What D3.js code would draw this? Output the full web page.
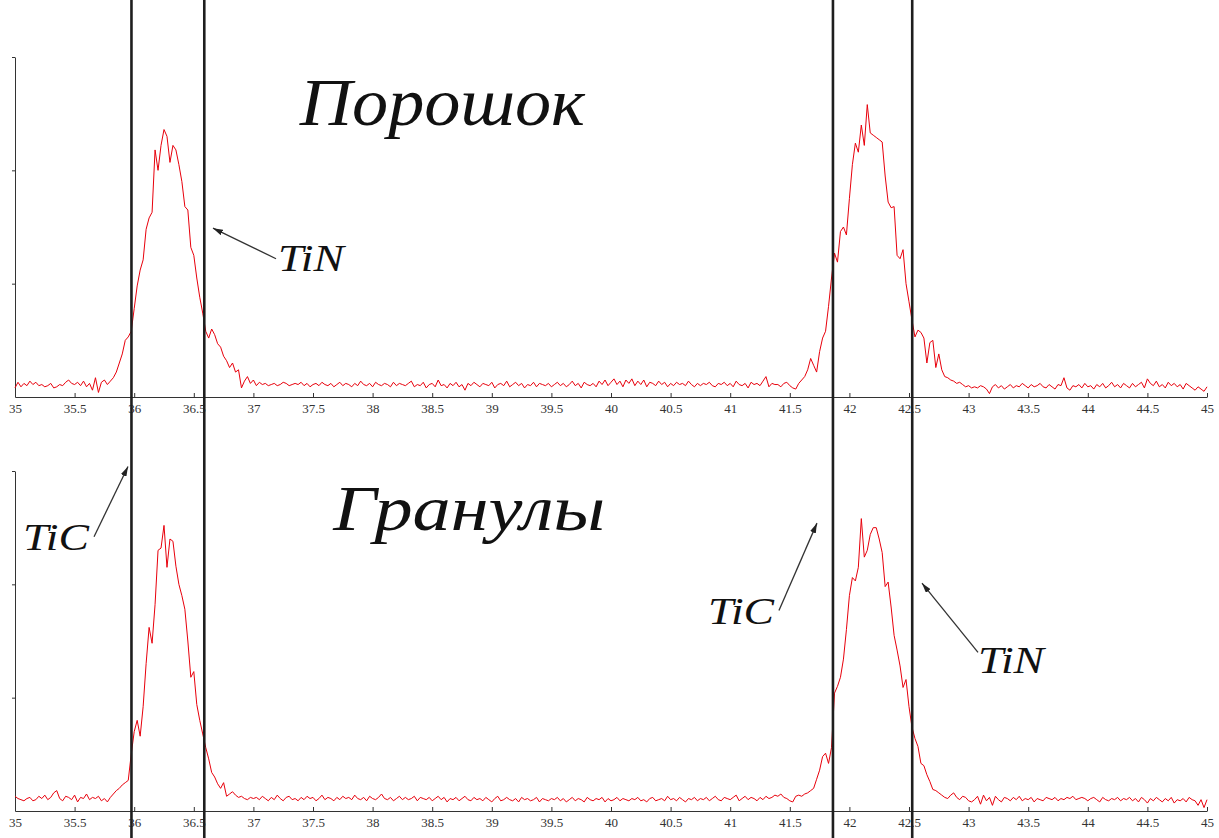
<!DOCTYPE html>
<html>
<head>
<meta charset="utf-8">
<script src="https://cdn.jsdelivr.net/npm/d3@7"></script>
<style>
  html, body { margin: 0; padding: 0; background: #fff; }
  svg { display: block; }
  .axis path, .axis line { stroke: #333; }
  .axis text { font-family: "Liberation Serif", "Times New Roman", serif; font-size: 13px; fill: #333; }
  .title, .note { font-family: "Liberation Serif", "Times New Roman", serif; font-style: italic; fill: #111; }
</style>
</head>
<body>
<svg id="chart" width="1219" height="838"></svg>
<script>
// scan grid, 2-theta in degrees
var thetaStart = 35, thetaStep = 0.025;
var xTicks = [35, 35.5, 36, 36.5, 37, 37.5, 38, 38.5, 39, 39.5, 40, 40.5, 41, 41.5, 42, 42.5, 43, 43.5, 44, 44.5, 45];
var yTicks = [100, 200, 300];

// reference positions of the TiC / TiN lines (2-theta)
var markerLines = [35.977, 36.588, 41.862, 42.527];

// intensities, powder ("Порошок")
var powderCounts = [
  8,13,9,12,10,14,11,13,10,11, 9,10,12,8,9,11,10,13,15,12, 11,13,10,14,9,12,6,17,4,13, 15,11,
  14,17,22,30,38,50,53,58,78,98, 112,121,148,158,163,218,200,222,236,230, 207,222,218,205,190,168,165,132,125,105,
  88,74,58,52,60,55,47,44,36,32, 26,30,22,24,8,14,18,12,15,
  10,13,11,12,10,11,12,10,11,13, 12,10,11,12,11,13,10,12,9,11, 12,10,13,11,10,
  12,9,11,13,10,12,11,9,12,10, 14,11,10,12,9,13,11,10,12,11, 9,13,10,12,11,
  10,12,14,9,11,10,13,8,11,12, 9,15,10,11,8,12,10,13,9,11, 6,12,10,13,11,
  9,12,11,10,13,8,11,12,10,14, 9,11,13,10,12,8,11,10,13,9, 12,11,10,12,9,
  11,13,10,12,9,11,14,10,12,8, 13,11,10,12,9,14,11,15,10,13, 16,11,14,9,15,
  12,16,10,14,11,15,9,13,12,10, 14,11,13,9,12,10,13,11,12,10, 14,11,9,12,10,
  12,11,13,10,9,12,11,13,10,12, 9,14,11,10,12,8,13,11,12,10, 14,18,9,12,11,
  11,9,12,13,10,8,7,12,15,18, 24,34,28,22,40,52,58,80,105,127, 119,146,150,143,175,205,224,216,240,222,
  258,233,231,229,227,225,195,172,167,168, 125,122,130,100,84,68,53,59,57,52, 30,48,50,26,38,24,18,17,15,14,
  12,13,11,9,10,8,9,
  8,10,9,7,3,9,11,8,10,7, 9,11,8,10,9,12,10,8,11,9, 10,12,9,8,11,
  9,7,11,10,17,8,6,10,9,11, 8,12,9,10,7,11,9,12,8,10, 13,9,11,8,12,
  10,8,12,9,11,13,8,16,12,10, 14,9,11,8,13,10,12,9,11,7, 12,10,8,6,9,
  7,5,9
];

// intensities, granules ("Гранулы")
var granuleCounts = [
  13,11,10,9,11,12,9,10,13,11, 14,10,12,16,18,11,9,13,12,10, 14,8,12,11,15,10,12,11,13,9, 11,8,
  12,15,18,20,23,25,27,50,70,80, 66,92,130,162,148,182,230,232,252,215, 240,238,216,200,190,178,150,118,123,94,
  80,68,56,46,34,30,24,20,25,13, 15,17,14,12,13,11,10,12,11,
  12,10,13,11,9,12,10,14,11,9, 12,13,10,11,9,12,10,13,11,12, 9,11,14,10,12,
  11,9,12,10,13,11,12,10,14,11, 10,12,9,13,11,10,12,15,11,10, 12,9,11,13,10,
  12,10,11,13,9,12,11,10,12,9, 11,13,10,12,8,11,10,12,9,11, 13,10,9,12,10,
  11,9,12,10,8,11,13,9,10,12, 10,9,11,8,12,10,11,9,10,12, 8,11,10,9,11,
  10,12,9,11,8,10,12,9,11,10, 8,12,10,9,11,10,12,8,11,9, 10,12,9,11,10,
  9,11,10,12,9,10,8,11,12,9, 10,11,9,13,10,11,9,12,10,8, 11,10,12,9,11,
  10,12,9,11,13,10,9,12,11,10, 12,14,9,11,13,10,12,11,9,12, 10,13,11,12,14,
  13,15,12,11,9,8,13,14,13,15, 16,18,20,28,36,48,51,42,56,104, 110,118,134,160,190,206,203,215,258,224,
  230,244,250,250,240,228,198,202,180,155, 142,128,109,116,92,74,64,57,42,40, 32,26,19,18,16,14,12,11,14,16,
  12,10,13,12,9,8,10,
  13,6,14,9,12,5,13,10,8,12, 11,9,12,10,13,9,11,10,12,8, 11,10,9,12,11,
  10,12,9,11,10,12,11,13,10,11, 12,11,9,11,12,10,8,12,10,9, 11,10,12,9,11,
  10,12,9,11,8,12,10,7,11,9, 12,10,8,11,9,12,7,10,9,11, 8,12,10,9,5,
  10,3,10
];

// annotations in data units: [2-theta, intensity]
var powderNotes = [
  { label: "TiN", at: [37.206, 111], from: [37.19, 122], to: [36.661, 149] }
];
var granuleNotes = [
  { label: "TiC", at: [35.067, 230], from: [35.663, 242], to: [35.948, 304] },
  { label: "TiC", at: [40.814, 165], from: [41.409, 177], to: [41.728, 254] },
  { label: "TiN", at: [43.079, 122], from: [43.079, 140], to: [42.609, 201] }
];

var svg = d3.select("#chart"),
  width = +svg.attr("width"),
  height = +svg.attr("height");

svg.append("rect").attr("width", width).attr("height", height).attr("fill", "#fff");

svg.append("defs").append("marker")
  .attr("id", "arrow")
  .attr("viewBox", "0 0 10 6")
  .attr("refX", 10)
  .attr("refY", 3)
  .attr("markerWidth", 10)
  .attr("markerHeight", 6)
  .attr("markerUnits", "userSpaceOnUse")
  .attr("orient", "auto")
  .append("path")
  .attr("d", "M0,0L10,3L0,6z")
  .attr("fill", "#222");

var x = d3.scaleLinear().domain([35, 45]).range([15, 1207]);

function thetaAt(i) {
  return thetaStart + i * thetaStep;
}

var panels = [
  { title: "Порошок", titleAt: [37.39, 240], titleSize: 68, titleLen: 285, counts: powderCounts, notes: powderNotes, top: 57, bottom: 397 },
  { title: "Гранулы", titleAt: [37.67, 248], titleSize: 64, titleLen: 272, counts: granuleCounts, notes: granuleNotes, top: 471, bottom: 811 }
];

panels.forEach(function (p) {
  var y = d3.scaleLinear().domain([0, 300]).range([p.bottom, p.top]);
  var g = svg.append("g");

  g.append("g")
    .attr("class", "axis")
    .attr("transform", "translate(0," + p.bottom + ")")
    .call(d3.axisBottom(x)
      .tickValues(xTicks)
      .tickSizeInner(-4)
      .tickSizeOuter(0)
      .tickPadding(7)
      .tickFormat(d3.format("")));

  g.append("g")
    .attr("class", "axis")
    .attr("transform", "translate(" + x(35) + ",0)")
    .call(d3.axisLeft(y)
      .tickValues(yTicks)
      .tickSizeInner(3)
      .tickSizeOuter(0)
      .tickFormat(""));

  var line = d3.line()
    .x(function (d, i) { return x(thetaAt(i)); })
    .y(function (d) { return y(d); });

  g.append("path")
    .datum(p.counts)
    .attr("fill", "none")
    .attr("stroke", "#e8000b")
    .attr("stroke-width", 1)
    .attr("d", line);

  g.append("text")
    .attr("class", "title")
    .attr("x", x(p.titleAt[0]))
    .attr("y", y(p.titleAt[1]))
    .attr("font-size", p.titleSize)
    .attr("textLength", p.titleLen)
    .attr("lengthAdjust", "spacingAndGlyphs")
    .text(p.title);

  p.notes.forEach(function (n) {
    g.append("line")
      .attr("x1", x(n.from[0]))
      .attr("y1", y(n.from[1]))
      .attr("x2", x(n.to[0]))
      .attr("y2", y(n.to[1]))
      .attr("stroke", "#333")
      .attr("stroke-width", 1.3)
      .attr("marker-end", "url(#arrow)");
    g.append("text")
      .attr("class", "note")
      .attr("x", x(n.at[0]))
      .attr("y", y(n.at[1]))
      .attr("font-size", 37)
      .attr("textLength", 66)
      .attr("lengthAdjust", "spacingAndGlyphs")
      .text(n.label);
  });
});

svg.append("g")
  .selectAll("line")
  .data(markerLines)
  .enter().append("line")
  .attr("x1", function (d) { return x(d); })
  .attr("x2", function (d) { return x(d); })
  .attr("y1", 0)
  .attr("y2", height)
  .attr("stroke", "#1e1e1e")
  .attr("stroke-width", 2.6);
</script>
</body>
</html>
